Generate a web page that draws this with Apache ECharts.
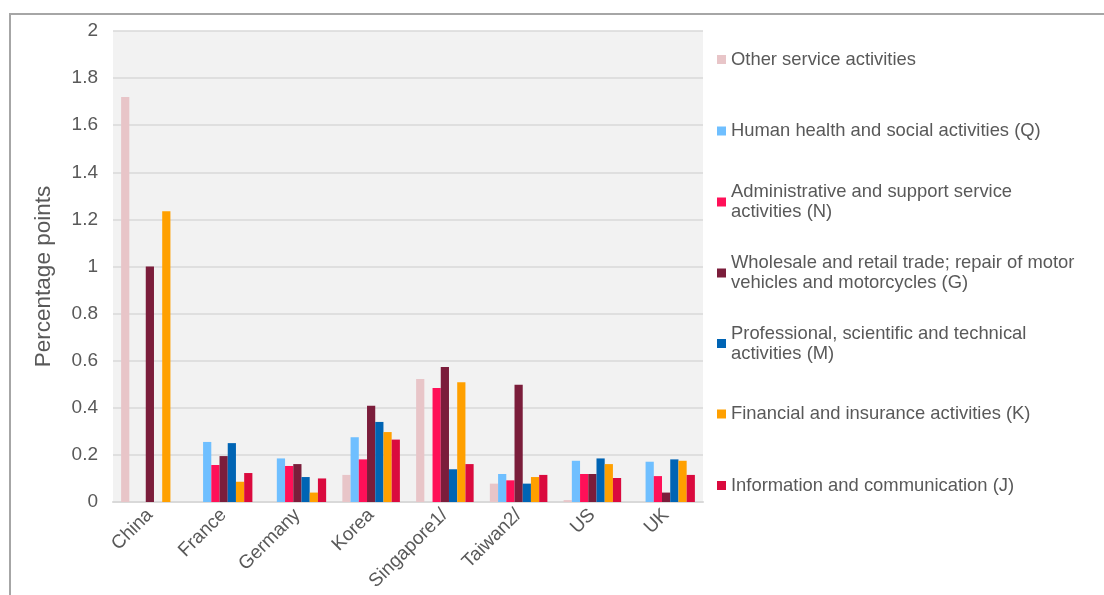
<!DOCTYPE html>
<html>
<head>
<meta charset="utf-8">
<script src="https://cdn.jsdelivr.net/npm/echarts@6/dist/echarts.min.js"></script>
<style>
html,body{margin:0;padding:0;background:#fff;}
#chart{width:1104px;height:595px;}
</style>
</head>
<body>
<div id="chart"></div>
<script>
var categories = ['China', 'France', 'Germany', 'Korea', 'Singapore1/', 'Taiwan2/', 'US', 'UK'];
var yTicks = [0, 0.2, 0.4, 0.6, 0.8, 1, 1.2, 1.4, 1.6, 1.8, 2];

var otherService   = [1.72, 0, 0, 0.115, 0.522, 0.078, 0.008, 0];
var humanHealth    = [0, 0.255, 0.185, 0.275, 0, 0.119, 0.175, 0.171];
var adminSupport   = [0, 0.157, 0.153, 0.181, 0.484, 0.092, 0.119, 0.110];
var wholesale      = [1.0, 0.195, 0.161, 0.409, 0.573, 0.498, 0.119, 0.040];
var professional   = [0, 0.250, 0.106, 0.340, 0.139, 0.078, 0.185, 0.181];
var financial      = [1.235, 0.086, 0.040, 0.297, 0.508, 0.106, 0.161, 0.175];
var information    = [0, 0.123, 0.100, 0.265, 0.161, 0.115, 0.102, 0.115];

var seriesNames = [
  'Other service activities',
  'Human health and social activities (Q)',
  'Administrative and support service activities (N)',
  'Wholesale and retail trade; repair of motor vehicles and motorcycles (G)',
  'Professional, scientific and technical activities (M)',
  'Financial and insurance activities (K)',
  'Information and communication (J)'
];
var legendLines = [
  ['Other service activities'],
  ['Human health and social activities (Q)'],
  ['Administrative and support service', 'activities (N)'],
  ['Wholesale and retail trade; repair of motor', 'vehicles and motorcycles (G)'],
  ['Professional, scientific and technical', 'activities (M)'],
  ['Financial and insurance activities (K)'],
  ['Information and communication (J)']
];
var seriesData = [otherService, humanHealth, adminSupport, wholesale, professional, financial, information];
var colors = ['#e8c5c8', '#6fbfff', '#ff1058', '#7b1d3b', '#0064b4', '#ffa000', '#da0a3e'];

var FONT = '"Liberation Sans", Arial, sans-serif';
var TXT = '#595959';

var legendCenters = [59.5, 131, 202, 273, 343.5, 414, 485.5];
var LH = 20;
var legends = legendLines.map(function (lines, i) {
  var two = lines.length > 1;
  return {
    orient: 'vertical',
    left: 717,
    top: legendCenters[i] - (two ? 1.5 * LH : LH / 2),
    padding: 0,
    itemWidth: 9,
    itemHeight: 9,
    icon: 'rect',
    selectedMode: false,
    data: [seriesNames[i]],
    formatter: function () { return lines.join('\n'); },
    textStyle: {
      fontFamily: FONT,
      fontSize: 18.4,
      color: TXT,
      lineHeight: LH,
      padding: two ? [LH, 0, 0, 0] : 0
    }
  };
});

var series = seriesNames.map(function (n, i) {
  return {
    name: n,
    type: 'bar',
    data: seriesData[i],
    barGap: '0%',
    barCategoryGap: '22%',
    itemStyle: { color: colors[i] },
    emphasis: { disabled: true }
  };
});

var chart = echarts.init(document.getElementById('chart'), null, { renderer: 'canvas' });
chart.setOption({
  animation: false,
  backgroundColor: '#ffffff',
  color: colors,
  legend: legends,
  grid: {
    left: 113, right: 401, top: 31, bottom: 93,
    show: true, backgroundColor: '#f2f2f2', borderWidth: 0
  },
  xAxis: {
    type: 'category',
    data: categories,
    axisTick: { show: false },
    axisLine: { lineStyle: { color: '#d9d9d9', width: 2 } },
    axisLabel: { rotate: 45, margin: 10, fontFamily: FONT, fontSize: 19, color: TXT }
  },
  yAxis: {
    type: 'value',
    min: yTicks[0], max: yTicks[yTicks.length - 1], interval: 0.2,
    name: 'Percentage points',
    nameLocation: 'middle',
    nameGap: 58,
    nameTextStyle: { fontFamily: FONT, fontSize: 22.5, color: TXT, padding: [0, 20, 0, 0] },
    axisLine: { show: false },
    axisTick: { show: false },
    splitLine: { lineStyle: { color: '#d9d9d9', width: 1.5 } },
    axisLabel: {
      margin: 15, fontFamily: FONT, fontSize: 19, color: TXT,
      formatter: function (v) { return String(Math.round(v * 10) / 10); }
    }
  },
  graphic: [{
    type: 'polyline',
    silent: true,
    shape: { points: [[10, 595], [10, 14], [1104, 14]] },
    style: { stroke: '#a6a6a6', lineWidth: 2, fill: null }
  }],
  series: series
});
</script>
</body>
</html>
